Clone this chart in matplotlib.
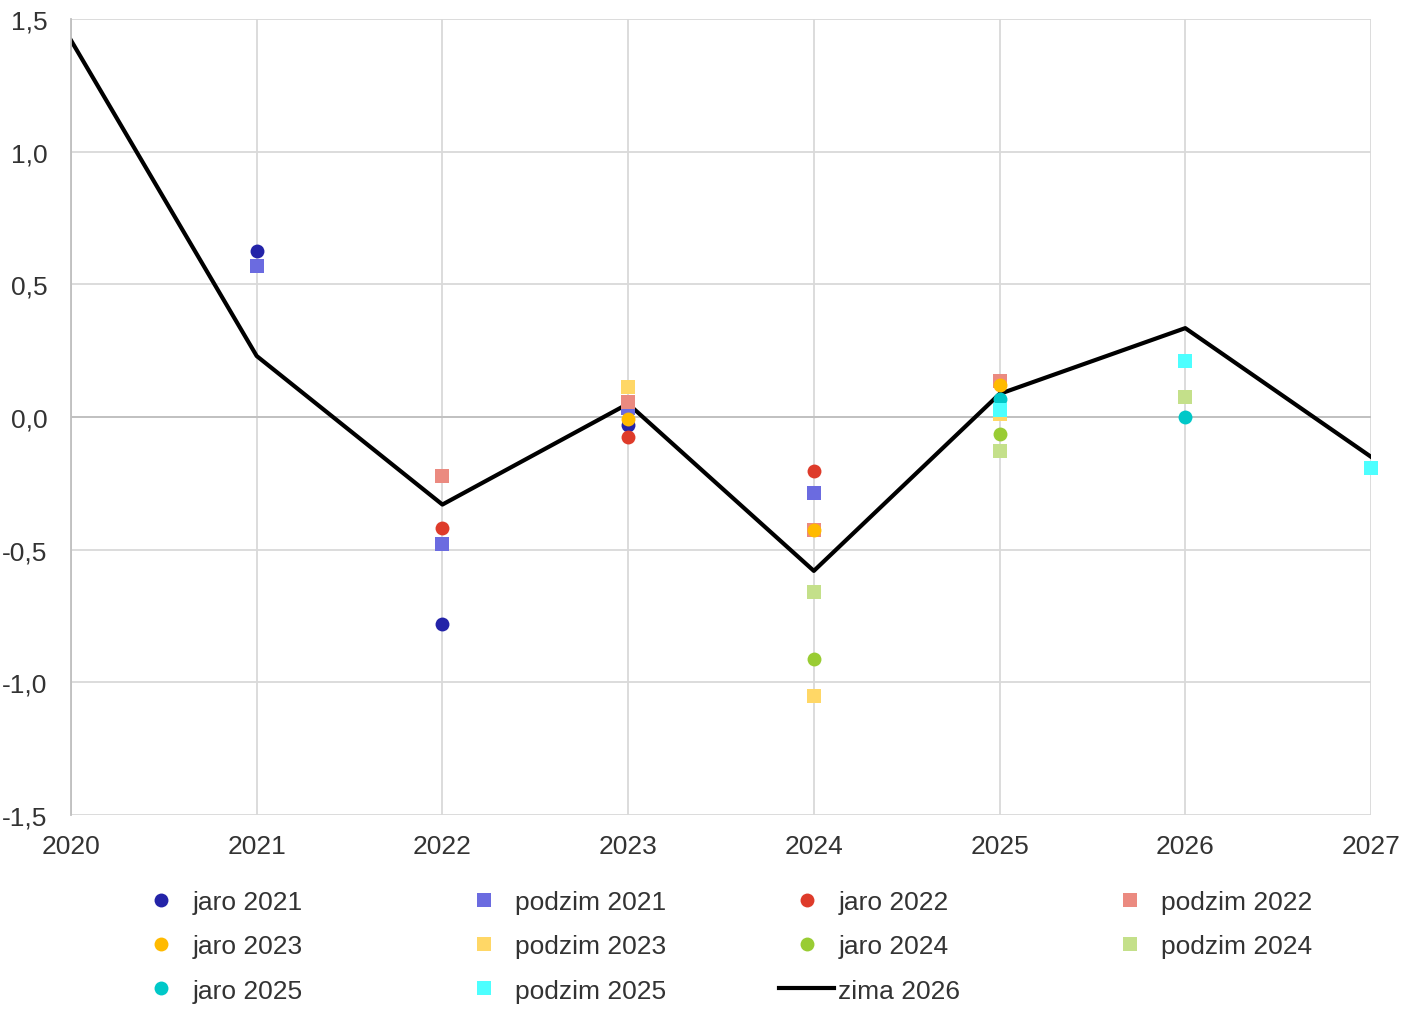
import matplotlib
matplotlib.use('Agg')
import matplotlib.pyplot as plt
from matplotlib.lines import Line2D
from matplotlib.ticker import FuncFormatter

plt.rcParams['font.family'] = ['Liberation Sans', 'DejaVu Sans']

years = [2020, 2021, 2022, 2023, 2024, 2025, 2026, 2027]
zima_2026 = [1.42, 0.23, -0.33, 0.05, -0.58, 0.087, 0.335, -0.15]

# forecast vintages: (label, marker, colour, years, values)
jaro_2021_x = [2021, 2022, 2023]
jaro_2021_y = [0.625, -0.78, -0.03]
podzim_2021_x = [2021, 2022, 2023, 2024]
podzim_2021_y = [0.57, -0.48, 0.035, -0.287]
jaro_2022_x = [2022, 2023, 2024]
jaro_2022_y = [-0.42, -0.075, -0.205]
podzim_2022_x = [2022, 2023, 2024, 2025]
podzim_2022_y = [-0.222, 0.057, -0.425, 0.135]
jaro_2023_x = [2023, 2024, 2025]
jaro_2023_y = [-0.008, -0.425, 0.12]
podzim_2023_x = [2023, 2024, 2025]
podzim_2023_y = [0.113, -1.052, 0.012]
jaro_2024_x = [2024, 2025]
jaro_2024_y = [-0.912, -0.064]
podzim_2024_x = [2024, 2025, 2026]
podzim_2024_y = [-0.66, -0.128, 0.075]
jaro_2025_x = [2025, 2026]
jaro_2025_y = [0.066, 0.0]
podzim_2025_x = [2025, 2026, 2027]
podzim_2025_y = [0.028, 0.211, -0.192]

series = [
    ('jaro 2021', 'o', '#2323A8', jaro_2021_x, jaro_2021_y),
    ('podzim 2021', 's', '#6B6BE0', podzim_2021_x, podzim_2021_y),
    ('jaro 2022', 'o', '#DE3B2A', jaro_2022_x, jaro_2022_y),
    ('podzim 2022', 's', '#EB8A80', podzim_2022_x, podzim_2022_y),
    ('jaro 2023', 'o', '#FFBA00', jaro_2023_x, jaro_2023_y),
    ('podzim 2023', 's', '#FFD766', podzim_2023_x, podzim_2023_y),
    ('jaro 2024', 'o', '#99CC33', jaro_2024_x, jaro_2024_y),
    ('podzim 2024', 's', '#C4E08A', podzim_2024_x, podzim_2024_y),
    ('jaro 2025', 'o', '#00C8C8', jaro_2025_x, jaro_2025_y),
    ('podzim 2025', 's', '#4DFFFF', podzim_2025_x, podzim_2025_y),
]

fig = plt.figure(figsize=(14.05, 10.12), dpi=100)
ax = fig.add_axes([0.0505, 0.1937, 0.9253, 0.7865])

handles = []
for label, marker, color, xs, ys in series:
    ms = 10 if marker == 'o' else 10.5
    ax.plot(xs, ys, linestyle='none', marker=marker, markersize=ms,
            color=color, markeredgewidth=0, zorder=3, clip_on=False)
    handles.append(Line2D([], [], linestyle='none', marker=marker, markersize=ms,
                          color=color, markeredgewidth=0, label=label))

ax.plot(years, zima_2026, color='black', linewidth=3, zorder=2)
handles.append(Line2D([], [], color='black', linewidth=3, label='zima 2026'))

ax.set_xlim(2020, 2027)
ax.set_ylim(-1.5, 1.5)
ax.set_xticks(years)
ax.set_yticks([-1.5, -1.0, -0.5, 0.0, 0.5, 1.0, 1.5])
ax.yaxis.set_major_formatter(FuncFormatter(lambda v, p: f'{v:.1f}'.replace('.', ',')))
ax.grid(True, color='#d9d9d9', linewidth=1.3, zorder=0)
ax.axhline(0, color='#bfbfbf', linewidth=1.3, zorder=1)
ax.tick_params(length=0, labelsize=19, colors='#333333')
ax.tick_params(axis='x', pad=14)
ax.tick_params(axis='y', pad=17)
for side in ['top', 'right', 'bottom']:
    ax.spines[side].set_visible(False)
ax.spines['left'].set_color('#bfbfbf')
ax.spines['left'].set_linewidth(1.3)
ax.set_axisbelow(True)

# legend laid out row by row in four fixed columns
col_x = [133, 456, 779, 1102]
for c in range(4):
    col_handles = [handles[r * 4 + c] for r in range(3) if r * 4 + c < len(handles)]
    leg = fig.legend(handles=col_handles, loc='upper left',
                     bbox_to_anchor=(col_x[c] / 1405, 1 - 891 / 1012),
                     frameon=False, fontsize=19, handlelength=2.1,
                     handletextpad=0.15, labelspacing=0.77, borderpad=0,
                     borderaxespad=0)
    for t in leg.get_texts():
        t.set_color('#333333')

fig.savefig('out.png', dpi=100)
